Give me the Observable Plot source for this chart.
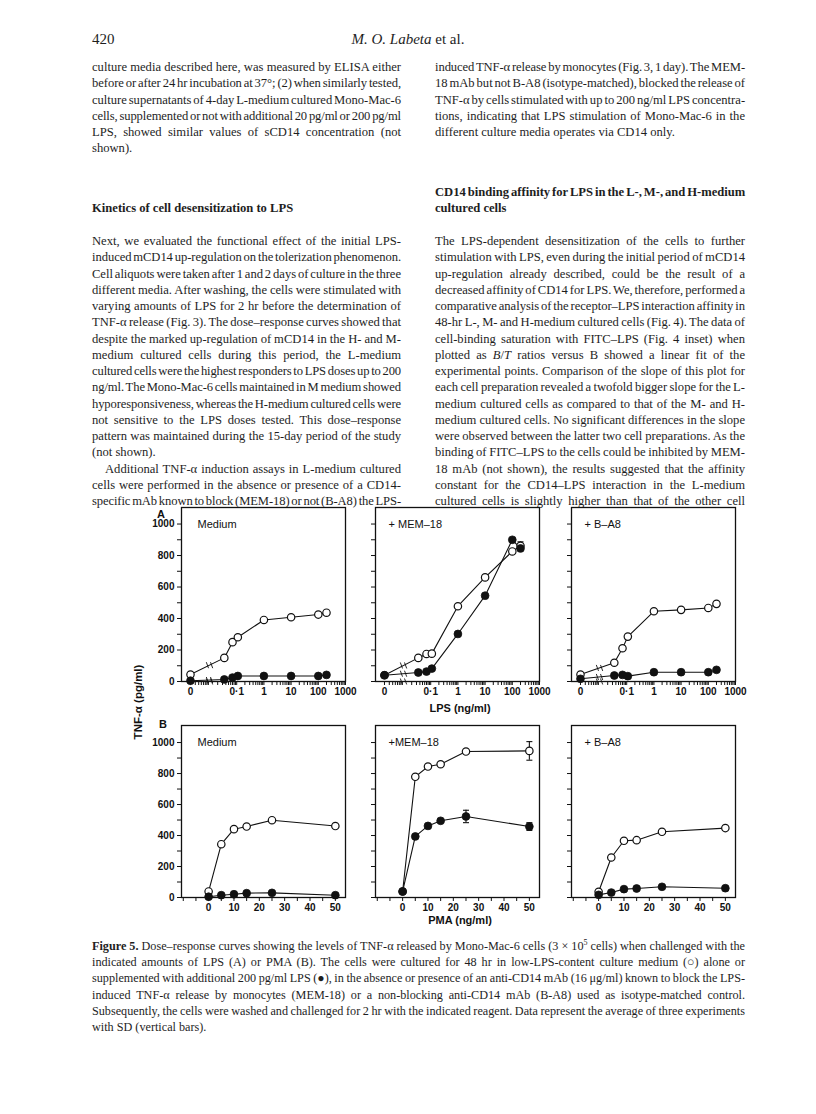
<!DOCTYPE html>
<html><head><meta charset="utf-8">
<script src="https://cdn.jsdelivr.net/npm/d3@7"></script>
<script src="https://cdn.jsdelivr.net/npm/@observablehq/plot@0.6"></script>
<style>
html,body{margin:0;padding:0;background:#fff}
#page{position:relative;width:816px;height:1114px;overflow:hidden;font-family:"Liberation Serif","Times New Roman",serif;color:#1e1e1e}
.ln{position:absolute;white-space:nowrap;font-size:12.6px;line-height:16px;height:16px}
.cap{font-size:12.2px}
.hd{font-size:15px}
.sans{position:absolute;font-family:"Liberation Sans",Arial,sans-serif;font-weight:bold;font-size:11px;color:#111;white-space:nowrap;line-height:12px}
svg.panel{position:absolute;overflow:visible}
</style></head><body><div id="page"></div>
<script>
// ---------------- DATA ----------------
const LPS_DOSES = [0, 0.035, 0.07, 0.11, 1, 10, 100, 200];
const LPS_TICKS = [0, 0.1, 1, 10, 100, 1000];
const LPS_TICK_LABELS = ["0", "0·1", "1", "10", "100", "1000"];
const PMA_DOSES = [0, 5, 10, 15, 25, 50];
const PMA_TICK_LABELS = [0, 10, 20, 30, 40, 50];
const Y_TICK_LABELS = [0, 200, 400, 600, 800, 1000];
const PANEL_LABELS_A = ["Medium", "+ MEM–18", "+ B–A8"];
const PANEL_LABELS_B = ["Medium", "+MEM–18", "+ B–A8"];

// Row A (LPS)
const A_MED_OPEN      = [44, 150, 250, 281, 391, 408, 425, 437];
const A_MED_OPEN_SD   = [0, 0, 0, 0, 0, 0, 0, 14];
const A_MED_FILLED    = [5, 13, 25, 35, 35, 35, 35, 42];
const A_MEM_OPEN      = [40, 150, 175, 177, 478, 661, 826, 862];
const A_MEM_OPEN_SD   = [0, 0, 0, 0, 0, 0, 12, 25];
const A_MEM_FILLED    = [40, 57, 63, 82, 302, 545, 900, 845];
const A_BA8_OPEN      = [44, 119, 211, 285, 446, 455, 467, 493];
const A_BA8_FILLED    = [17, 38, 42, 34, 59, 59, 59, 74];
// Row B (PMA)
const B_MED_OPEN      = [39, 344, 441, 458, 499, 461];
const B_MED_OPEN_SD   = [0, 0, 0, 0, 14, 0];
const B_MED_FILLED    = [5, 15, 21, 28, 30, 15];
const B_MEM_OPEN      = [39, 779, 845, 860, 942, 946];
const B_MEM_OPEN_SD   = [0, 0, 0, 0, 0, 60];
const B_MEM_FILLED    = [39, 394, 462, 495, 523, 458];
const B_MEM_FILLED_SD = [0, 0, 0, 0, 40, 25];
const B_BA8_OPEN      = [37, 258, 366, 370, 424, 448];
const B_BA8_FILLED    = [17, 32, 54, 58, 69, 60];

// ---------------- TEXT ----------------
const HEADER_LEFT = "420";
const HEADER_CENTER = "<i>M. O. Labeta</i> et al.";
const LEFT_BLOCK1 = [
 ["culture media described here, was measured by ELISA either",1],
 ["before or after 24 hr incubation at 37°; (2) when similarly tested,",1],
 ["culture supernatants of 4-day L-medium cultured Mono-Mac-6",1],
 ["cells, supplemented or not with additional 20 pg/ml or 200 pg/ml",1],
 ["LPS, showed similar values of sCD14 concentration (not",1],
 ["shown).",0]];
const LEFT_HEAD = [["<b>Kinetics of cell desensitization to LPS</b>",0]];
const LEFT_BLOCK2 = [
 ["Next, we evaluated the functional effect of the initial LPS-",1],
 ["induced mCD14 up-regulation on the tolerization phenomenon.",1],
 ["Cell aliquots were taken after 1 and 2 days of culture in the three",1],
 ["different media. After washing, the cells were stimulated with",1],
 ["varying amounts of LPS for 2 hr before the determination of",1],
 ["TNF-α release (Fig. 3). The dose–response curves showed that",1],
 ["despite the marked up-regulation of mCD14 in the H- and M-",1],
 ["medium cultured cells during this period, the L-medium",1],
 ["cultured cells were the highest responders to LPS doses up to 200",1],
 ["ng/ml. The Mono-Mac-6 cells maintained in M medium showed",1],
 ["hyporesponsiveness, whereas the H-medium cultured cells were",1],
 ["not sensitive to the LPS doses tested. This dose–response",1],
 ["pattern was maintained during the 15-day period of the study",1],
 ["(not shown).",0],
 ["Additional TNF-α induction assays in L-medium cultured",1,13],
 ["cells were performed in the absence or presence of a CD14-",1],
 ["specific mAb known to block (MEM-18) or not (B-A8) the LPS-",1]];
const RIGHT_BLOCK1 = [
 ["induced TNF-α release by monocytes (Fig. 3, 1 day). The MEM-",1],
 ["18 mAb but not B-A8 (isotype-matched), blocked the release of",1],
 ["TNF-α by cells stimulated with up to 200 ng/ml LPS concentra-",1],
 ["tions, indicating that LPS stimulation of Mono-Mac-6 in the",1],
 ["different culture media operates via CD14 only.",0]];
const RIGHT_HEAD = [
 ["<b>CD14 binding affinity for LPS in the L-, M-, and H-medium</b>",1],
 ["<b>cultured cells</b>",0]];
const RIGHT_BLOCK2 = [
 ["The LPS-dependent desensitization of the cells to further",1],
 ["stimulation with LPS, even during the initial period of mCD14",1],
 ["up-regulation already described, could be the result of a",1],
 ["decreased affinity of CD14 for LPS. We, therefore, performed a",1],
 ["comparative analysis of the receptor–LPS interaction affinity in",1],
 ["48-hr L-, M- and H-medium cultured cells (Fig. 4). The data of",1],
 ["cell-binding saturation with FITC–LPS (Fig. 4 inset) when",1],
 ["plotted as <i>B</i>/<i>T</i> ratios versus B showed a linear fit of the",1],
 ["experimental points. Comparison of the slope of this plot for",1],
 ["each cell preparation revealed a twofold bigger slope for the L-",1],
 ["medium cultured cells as compared to that of the M- and H-",1],
 ["medium cultured cells. No significant differences in the slope",1],
 ["were observed between the latter two cell preparations. As the",1],
 ["binding of FITC–LPS to the cells could be inhibited by MEM-",1],
 ["18 mAb (not shown), the results suggested that the affinity",1],
 ["constant for the CD14–LPS interaction in the L-medium",1],
 ["cultured cells is slightly higher than that of the other cell",1]];
const CAPTION = [
 ["<b>Figure 5.</b> Dose–response curves showing the levels of TNF-α released by Mono-Mac-6 cells (3 × 10<sup style=\"font-size:8px;vertical-align:5px;line-height:0\">5</sup> cells) when challenged with the",1],
 ["indicated amounts of LPS (A) or PMA (B). The cells were cultured for 48 hr in low-LPS-content culture medium (○) alone or",1],
 ["supplemented with additional 200 pg/ml LPS (●), in the absence or presence of an anti-CD14 mAb (16 μg/ml) known to block the LPS-",1],
 ["induced TNF-α release by monocytes (MEM-18) or a non-blocking anti-CD14 mAb (B-A8) used as isotype-matched control.",1],
 ["Subsequently, the cells were washed and challenged for 2 hr with the indicated reagent. Data represent the average of three experiments",1],
 ["with SD (vertical bars).",0]];

// ---------------- PAGE TEXT ----------------
const page = document.getElementById("page");
const toFit = [];
function addBlock(lines, x, y0, width, step, cls) {
  lines.forEach(([html, just, indent], i) => {
    const el = document.createElement("div");
    el.className = "ln " + (cls || "");
    el.innerHTML = html;
    el.style.left = (x + (indent || 0)) + "px";
    el.style.top = (y0 + i * step - 8) + "px";
    page.appendChild(el);
    toFit.push([el, width - (indent || 0), just]);
  });
}
function fitAll() {
  for (const [el, width, just] of toFit) {
    el.style.wordSpacing = "0px"; el.style.letterSpacing = "0px";
    const w = el.getBoundingClientRect().width;
    const t = el.textContent;
    const n = (t.match(/ /g) || []).length;
    if (just && n > 0) {
      let ws = (width - w) / n;
      if (ws < -1.2) ws = -1.2;
      el.style.wordSpacing = ws + "px";
      const w2 = el.getBoundingClientRect().width;
      if (Math.abs(w2 - width) > 0.5) el.style.letterSpacing = ((width - w2) / t.length) + "px";
    } else if (w > width) {
      el.style.letterSpacing = ((width - w) / t.length) + "px";
    }
  }
}
const STEP = 16.25;
(function(){
  const a = document.createElement("div"); a.className = "ln hd"; a.innerHTML = HEADER_LEFT;
  a.style.left = "92px"; a.style.top = (39 - 8) + "px"; page.appendChild(a);
  const b = document.createElement("div"); b.className = "ln hd"; b.innerHTML = HEADER_CENTER;
  b.style.left = "0px"; b.style.width = "816px"; b.style.textAlign = "center"; b.style.top = (39 - 8) + "px"; page.appendChild(b);
})();
addBlock(LEFT_BLOCK1, 92, 67, 309, STEP);
addBlock(LEFT_HEAD, 92, 208, 309, STEP);
addBlock(LEFT_BLOCK2, 92, 241, 309, STEP);
addBlock(RIGHT_BLOCK1, 435, 67, 310, STEP);
addBlock(RIGHT_HEAD, 435, 192, 310, STEP);
addBlock(RIGHT_BLOCK2, 435, 241, 310, STEP);
addBlock(CAPTION, 92, 946, 653, 16.2, "cap");

// ---------------- CHART ----------------
const ZERO = -2.7, BREAK = -2.0;
const lx = d => d === 0 ? ZERO : Math.log10(d);
function series(doses, vals, sd, xf) {
  return doses.map((d, i) => ({x: xf(d), v: vals[i], sd: sd ? sd[i] : 0}));
}
const capSym = {draw(ctx) { ctx.moveTo(-3, 0); ctx.lineTo(3, 0); }};
const breakSym = {draw(ctx) { ctx.moveTo(-3.2, -3); ctx.lineTo(-1, 3); ctx.moveTo(1, -3); ctx.lineTo(3.2, 3); }};

const LPS_MINOR = [];
for (let e = -3; e <= 2; e++) for (let k = 2; k <= 9; k++) {
  const p = Math.log10(k * Math.pow(10, e));
  if (p > ZERO + 0.05) LPS_MINOR.push(p);
}
const LPS_MAJOR = LPS_TICKS.map(lx);
const lpsLabel = new Map(LPS_MAJOR.map((p, i) => [p, LPS_TICK_LABELS[i]]));

function panel({left, top, w, h, xdomain, xticks, xfmt, ydomain, showY, label, labelDx, open, filled, brk}) {
  const mL = 44, mR = 14, mT = 8, mB = 22;
  const marks = [];
  marks.push(Plot.line(open, {x: "x", y: "v", stroke: "#111", strokeWidth: 1.1}));
  marks.push(Plot.line(filled, {x: "x", y: "v", stroke: "#111", strokeWidth: 1.1}));
  if (brk) {
    const pts = [open, filled].map(s => {
      const t = (BREAK - s[0].x) / (s[1].x - s[0].x);
      return {x: BREAK, v: s[0].v + t * (s[1].v - s[0].v)};
    });
    pts.push({x: BREAK, v: 0});
    marks.push(Plot.dot(pts, {x: "x", y: "v", symbol: breakSym, stroke: "#111", strokeWidth: 0.9, fill: "none"}));
  }
  const errs = [...open, ...filled].filter(d => d.sd > 0);
  marks.push(Plot.ruleX(errs, {x: "x", y1: d => d.v - d.sd, y2: d => d.v + d.sd, stroke: "#111", strokeWidth: 1.1}));
  marks.push(Plot.dot(errs.flatMap(d => [{x: d.x, v: d.v - d.sd}, {x: d.x, v: d.v + d.sd}]), {x: "x", y: "v", symbol: capSym, stroke: "#111", strokeWidth: 1.1, fill: "none"}));
  marks.push(Plot.dot(open, {x: "x", y: "v", r: 3.7, fill: "white", stroke: "#111", strokeWidth: 1.2}));
  marks.push(Plot.dot(filled, {x: "x", y: "v", r: 3.9, fill: "#111", stroke: "#111", strokeWidth: 0.8}));
  marks.push(Plot.text([label], {frameAnchor: "top-left", dx: labelDx, dy: 13, text: d => d, fontSize: 11, fontWeight: "normal", fill: "#111", textAnchor: "start"}));
  marks.push(Plot.frame({stroke: "#111", strokeWidth: 1.3}));
  const svg = Plot.plot({
    width: mL + w + mR, height: mT + h + mB,
    marginLeft: mL, marginRight: mR, marginTop: mT, marginBottom: mB,
    x: {type: "linear", domain: xdomain, ticks: xticks, tickFormat: xfmt, tickSize: 4, tickPadding: 2, label: null},
    y: {domain: ydomain, ticks: d3.range(0, 1001, 100), tickSize: 4, tickPadding: 3, label: null,
        tickFormat: d => (showY && Y_TICK_LABELS.includes(d)) ? String(d) : ""},
    style: {fontFamily: '"Liberation Sans", Arial, sans-serif', fontSize: "10px", fontWeight: "bold", color: "#111", background: "transparent", overflow: "visible"},
    marks
  });
  svg.classList.add("panel");
  svg.style.left = (left - mL) + "px";
  svg.style.top = (top - mT) + "px";
  svg.style.position = "absolute";
  svg.style.maxWidth = "none";
  page.appendChild(svg);
}

const COLS = [181, 375, 571];
const PW = 164;
const A_OPEN = [A_MED_OPEN, A_MEM_OPEN, A_BA8_OPEN];
const A_OPEN_SD = [A_MED_OPEN_SD, A_MEM_OPEN_SD, null];
const A_FILLED = [A_MED_FILLED, A_MEM_FILLED, A_BA8_FILLED];
const B_OPEN = [B_MED_OPEN, B_MEM_OPEN, B_BA8_OPEN];
const B_OPEN_SD = [B_MED_OPEN_SD, B_MEM_OPEN_SD, null];
const B_FILLED = [B_MED_FILLED, B_MEM_FILLED, B_BA8_FILLED];
const B_FILLED_SD = [null, B_MEM_FILLED_SD, null];

for (let c = 0; c < 3; c++) {
  panel({
    left: COLS[c], top: 507, w: PW, h: 174,
    xdomain: [-3.03, 3.0], xticks: [...LPS_MAJOR, ...LPS_MINOR],
    xfmt: p => lpsLabel.has(p) ? lpsLabel.get(p) : "",
    ydomain: [0, 1105], showY: c === 0, label: PANEL_LABELS_A[c], labelDx: c === 0 ? 16 : 13,
    open: series(LPS_DOSES, A_OPEN[c], A_OPEN_SD[c], lx),
    filled: series(LPS_DOSES, A_FILLED[c], null, lx),
    brk: true
  });
  panel({
    left: COLS[c], top: 725, w: PW, h: 172,
    xdomain: [-10.7, 54], xticks: d3.range(-10, 55, 5),
    xfmt: d => PMA_TICK_LABELS.includes(d) ? String(d) : "",
    ydomain: [0, 1110], showY: c === 0, label: PANEL_LABELS_B[c], labelDx: c === 0 ? 16 : 13,
    open: series(PMA_DOSES, B_OPEN[c], B_OPEN_SD[c], d => d),
    filled: series(PMA_DOSES, B_FILLED[c], B_FILLED_SD[c], d => d),
    brk: false
  });
}

function sans(text, x, y, anchor, rotate, size) {
  const el = document.createElement("div");
  el.className = "sans"; el.textContent = text;
  if (size) el.style.fontSize = size + "px";
  el.style.left = x + "px"; el.style.top = (y - 6) + "px";
  if (anchor === "middle") el.style.transform = "translateX(-50%)" + (rotate ? " rotate(-90deg)" : "");
  page.appendChild(el);
  return el;
}
sans("A", 157, 514);
sans("B", 159, 724);
sans("LPS (ng/ml)", 460, 708, "middle");
sans("PMA (ng/ml)", 460, 920, "middle");
sans("TNF-α (pg/ml)", 138, 702, "middle", true, 11.5);

fitAll();
if (document.fonts && document.fonts.ready) document.fonts.ready.then(fitAll);
</script></body></html>
